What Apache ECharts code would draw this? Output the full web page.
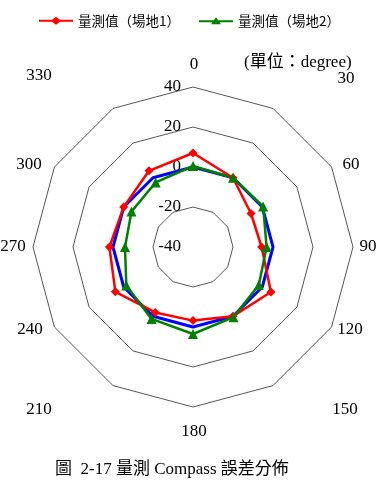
<!DOCTYPE html>
<html>
<head>
<meta charset="utf-8">
<script src="https://cdn.jsdelivr.net/npm/echarts@6/dist/echarts.min.js"></script>
<style>
html, body { margin: 0; padding: 0; background: #fff; }
#chart { width: 379px; height: 496px; }
</style>
</head>
<body>
<div id="chart"></div>
<script>
// compass directions, clockwise from the top
const angles = ["0", "30", "60", "90", "120", "150", "180", "210", "240", "270", "300", "330"];
// measured error (degree)
const site1 = [7, 0, -6.5, -5.7, 5, 0, -3.2, -2.2, 4.8, 1.8, 0, 4];
const site2 = [0.5, 0, 0.5, -3.2, -2, 0.5, 3.5, 1.5, -1.5, -6, -4.5, -2.7];
const zeroLine = [0, 0, 0, 0, 0, 0, 0, 0, 0, 0, 0, 0];
const radialMin = -40;
const radialMax = 40;
const seriesNames = ["量測值（場地1）", "量測值（場地2）"];

// layout
const cx = 193, cy = 247, R = 160;
// where excel put the direction labels (centre offsets from the chart centre)
const nameOffsets = [[1, -182], [153, -168], [158, -82], [175, 3], [157, 83], [152, 163],
    [1, 185], [-154, 163], [-163, 83], [-180, 2], [-164, -82], [-154, -171]];

// echarts lays radar axes counterclockwise, so walk the list backwards after the first one
const order = angles.map((a, i) => (12 - i) % 12);
const pick = arr => order.map(i => arr[i]);

const indicators = order.map((i, k) => {
    const t = Number(angles[i]) * Math.PI / 180;
    const dir = [Math.sin(t), -Math.cos(t)];
    const off = nameOffsets[i];
    // vertical padding doesn't seem to move the name, so match y with the gap and x with padding
    let dist;
    if (Math.abs(dir[1]) > 0.3) {
        dist = off[1] / dir[1];
    } else {
        dist = off[0] * dir[0] + off[1] * dir[1];
    }
    const rx = off[0] - dist * dir[0];
    const ind = {
        name: angles[i],
        min: radialMin,
        max: radialMax,
        nameGap: dist - R,
        nameTextStyle: {
            align: "center",
            verticalAlign: "middle",
            padding: [0, Math.max(0, -2 * rx), 0, Math.max(0, 2 * rx)]
        }
    };
    if (k === 0) {
        ind.axisLabel = { show: true };
    }
    return ind;
});

const chart = echarts.init(document.getElementById("chart"));

chart.setOption({
    animation: false,
    backgroundColor: "#fff",
    title: [
        {
            text: "(單位：degree)",
            left: 239, top: 49,
            textStyle: { fontFamily: "Liberation Serif, Noto Sans CJK TC", fontSize: 17, fontWeight: "normal", color: "#000" }
        },
        {
            text: "圖  2-17 量測 Compass 誤差分佈",
            left: 50, top: 456,
            textStyle: { fontFamily: "Liberation Serif, Noto Sans CJK TC", fontSize: 17, fontWeight: "normal", color: "#000" }
        }
    ],
    legend: {
        top: 9,
        left: "center",
        itemWidth: 34,
        itemHeight: 10,
        itemGap: 19,
        textStyle: { fontFamily: "Noto Sans CJK TC", fontSize: 13.5, color: "#000" },
        data: [
            { name: seriesNames[0], icon: "path://M0,4 L13,4 L17,1 L21,4 L34,4 L34,6 L21,6 L17,9 L13,6 L0,6 Z" },
            { name: seriesNames[1], icon: "path://M0,4 L14.9,4 L17,1 L19.1,4 L34,4 L34,6 L20.6,6 L22,8 L12,8 L13.4,6 L0,6 Z" }
        ]
    },
    radar: {
        center: [cx, cy],
        radius: R,
        shape: "polygon",
        splitNumber: 4,
        indicator: indicators,
        axisName: { color: "#000", fontFamily: "Liberation Serif", fontSize: 17 },
        axisLine: { show: false },
        axisTick: { show: false },
        axisLabel: { show: false, color: "#000", fontFamily: "Liberation Serif", fontSize: 17, margin: 12 },
        splitLine: { lineStyle: { color: "#555", width: 1 } },
        splitArea: { show: false }
    },
    series: [{
        type: "radar",
        data: [
            {
                name: "基準",
                value: pick(zeroLine),
                symbol: "none",
                lineStyle: { color: "#0000ff", width: 3 },
                itemStyle: { color: "#0000ff" }
            },
            {
                name: seriesNames[0],
                value: pick(site1),
                symbol: "diamond",
                symbolSize: 9,
                lineStyle: { color: "#ff0000", width: 2.5 },
                itemStyle: { color: "#ff0000" }
            },
            {
                name: seriesNames[1],
                value: pick(site2),
                symbol: "triangle",
                symbolSize: 10,
                lineStyle: { color: "#008000", width: 2.5 },
                itemStyle: { color: "#008000" }
            }
        ]
    }]
});
</script>
</body>
</html>
